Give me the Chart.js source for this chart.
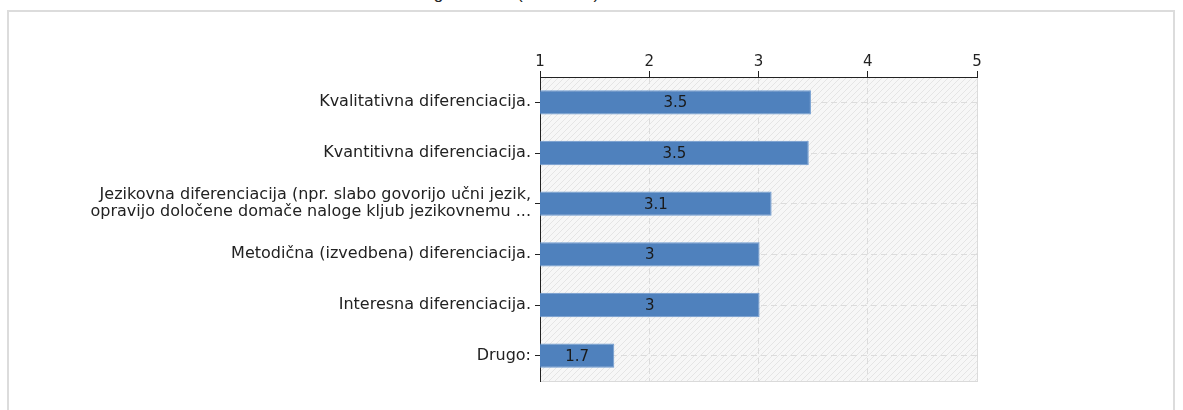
<!DOCTYPE html>
<html>
<head>
<meta charset="utf-8">
<script src="https://cdn.jsdelivr.net/npm/chart.js@4/dist/chart.umd.min.js"></script>
<style>
  html, body { margin: 0; padding: 0; background: #fff; overflow: hidden; }
  #title { position: absolute; left: 379px; top: -16px; font: 17px Arial, sans-serif; line-height: 20px; color: #222; white-space: nowrap; }
  #frame { position: absolute; left: 7px; top: 10px; width: 1164px; height: 420px; border: 2px solid #dcdcdc; }
  #wrap { position: absolute; left: 0; top: 0; width: 1183px; height: 410px; }
</style>
</head>
<body>
<div id="title">Ocena glede dela (od 1 do 5)</div>
<div id="frame"></div>
<div id="wrap"><canvas id="chart" width="1183" height="410"></canvas></div>
<script>
const CATEGORIES = [
  'Kvalitativna diferenciacija.',
  'Kvantitivna diferenciacija.',
  ['Jezikovna diferenciacija (npr. slabo govorijo učni jezik,', 'opravijo določene domače naloge kljub jezikovnemu ...'],
  'Metodična (izvedbena) diferenciacija.',
  'Interesna diferenciacija.',
  'Drugo:',
];
const VALUES = [3.48, 3.46, 3.12, 3.01, 3.01, 1.68];
const X_TICKS = [1, 2, 3, 4, 5];

const FONT = 'DejaVu Sans';

// diagonal hatch for the plot background
function hatch() {
  const c = document.createElement('canvas');
  c.width = 6; c.height = 6;
  const g = c.getContext('2d');
  g.fillStyle = '#f7f7f7'; g.fillRect(0, 0, 6, 6);
  g.strokeStyle = '#e5e5e5'; g.lineWidth = 1;
  g.beginPath();
  g.moveTo(0, 6); g.lineTo(6, 0);
  g.moveTo(-3, 3); g.lineTo(3, -3);
  g.moveTo(3, 9); g.lineTo(9, 3);
  g.stroke();
  return g.createPattern(c, 'repeat');
}

const plotBg = {
  id: 'plotBg',
  beforeDraw(chart) {
    const { ctx, chartArea: a } = chart;
    ctx.save();
    ctx.fillStyle = hatch();
    ctx.fillRect(a.left, a.top, a.right - a.left, a.bottom - a.top);
    ctx.strokeStyle = '#dadada'; ctx.lineWidth = 1;
    ctx.strokeRect(a.left + 0.5, a.top + 0.5, a.right - a.left, a.bottom - a.top);
    ctx.restore();
  },
};

// value text centred on the visible part of each bar
const barLabels = {
  id: 'barLabels',
  afterDatasetsDraw(chart) {
    const { ctx } = chart;
    const xs = chart.scales.x;
    const start = xs.getPixelForValue(xs.min);
    ctx.save();
    ctx.font = '15px ' + FONT;
    ctx.fillStyle = '#1a1a1a';
    ctx.textAlign = 'center'; ctx.textBaseline = 'middle';
    chart.getDatasetMeta(0).data.forEach((bar, i) => {
      const v = Math.round(VALUES[i] * 10) / 10;
      ctx.fillText(String(v), (bar.x + start) / 2, bar.y + 1);
    });
    ctx.restore();
  },
};

new Chart(document.getElementById('chart'), {
  type: 'bar',
  data: {
    labels: CATEGORIES,
    datasets: [{
      data: VALUES,
      backgroundColor: '#4f81bd',
      borderColor: '#6f9bd0',
      borderWidth: 1,
      barPercentage: 0.48,
      categoryPercentage: 1,
    }],
  },
  options: {
    indexAxis: 'y',
    responsive: false,
    animation: false,
    layout: { padding: { left: 0, right: 206, top: 0, bottom: 29 } },
    plugins: { legend: { display: false }, tooltip: { enabled: false } },
    scales: {
      x: {
        position: 'top', min: 1, max: 5,
        afterBuildTicks: s => { s.ticks = X_TICKS.map(v => ({ value: v })); },
        afterFit: s => { s.height = 77; },
        ticks: { color: '#222', font: { family: FONT, size: 15 }, padding: 0 },
        grid: { color: '#dcdcdc', tickColor: '#222', tickLength: 6, tickBorderDash: [] },
        border: { color: '#222', width: 1, dash: [6, 4] },
      },
      y: {
        afterFit: s => { s.width = 540; },
        ticks: { color: '#222', font: { family: FONT, size: 16, lineHeight: 1.06 }, padding: 4, autoSkip: false },
        grid: { offset: false, color: '#dcdcdc', tickColor: '#222', tickLength: 5, tickBorderDash: [] },
        border: { color: '#222', width: 1, dash: [6, 4] },
      },
    },
  },
  plugins: [plotBg, barLabels],
});
</script>
</body>
</html>
